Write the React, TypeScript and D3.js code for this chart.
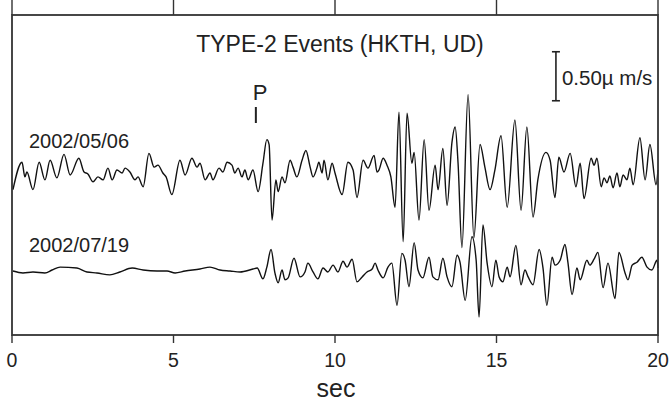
import React from "react";
import * as d3 from "d3";

// Time axis (seconds) and tick labels
const X_DOMAIN: [number, number] = [0, 20];
const X_TICKS = [0, 5, 10, 15, 20];

// Vertical range of the panel in µm/s, and baseline offsets of each trace
const Y_DOMAIN: [number, number] = [0, 3.265];
const TRACE_LABELS = ["2002/05/06", "2002/07/19"];
const TRACE_OFFSETS = [1.663, 0.653];

// Scale bar (µm/s) and P arrival time (s)
const SCALE_BAR_VALUE = 0.5;
const SCALE_BAR_TIME = 16.84;
const SCALE_BAR_BASE = 2.39;
const P_TIME = 7.55;

// Velocity traces: [time s, amplitude µm/s]
const TRACE_0506: [number, number][] = [
  [0.03, -0.18], [0.31, 0.1], [0.4, -0.05], [0.46, 0.0], [0.65, -0.18], [0.84, 0.1],
  [1.02, -0.08], [1.18, 0.12], [1.39, -0.06], [1.61, 0.18], [1.8, -0.03], [2.07, 0.14],
  [2.23, 0.0], [2.35, -0.02], [2.51, -0.1], [2.66, -0.05], [2.82, -0.08], [2.97, 0.04],
  [3.1, -0.08], [3.25, 0.02], [3.41, -0.01], [3.5, 0.04], [3.65, 0.0], [3.81, -0.08],
  [3.9, -0.05], [4.06, -0.15], [4.24, 0.19], [4.4, 0.05], [4.52, 0.07], [4.67, -0.01],
  [4.77, -0.05], [4.95, -0.23], [5.2, 0.12], [5.36, -0.03], [5.57, 0.14], [5.73, 0.05],
  [5.82, 0.09], [5.98, -0.08], [6.13, -0.01], [6.22, -0.08], [6.41, 0.04], [6.53, 0.0],
  [6.66, 0.1], [6.81, 0.07], [6.9, -0.01], [7.0, 0.04], [7.12, -0.05], [7.21, 0.02],
  [7.31, -0.08], [7.46, 0.02], [7.62, -0.2], [7.77, 0.09], [7.89, 0.33], [7.96, 0.28],
  [8.05, -0.49], [8.17, -0.08], [8.24, -0.2], [8.36, -0.05], [8.45, -0.11], [8.61, 0.12],
  [8.7, 0.05], [8.82, -0.05], [8.98, 0.12], [9.1, 0.22], [9.23, 0.05], [9.32, -0.05],
  [9.44, 0.04], [9.5, 0.1], [9.6, -0.01], [9.66, 0.12], [9.78, -0.08], [9.91, 0.09],
  [10.0, -0.01], [10.22, -0.23], [10.4, 0.1], [10.56, 0.02], [10.68, -0.26], [10.87, 0.12],
  [11.02, 0.04], [11.21, 0.17], [11.3, 0.0], [11.36, 0.02], [11.49, 0.14], [11.61, 0.07],
  [11.73, -0.05], [11.86, -0.36], [11.98, 0.61], [12.11, -0.71], [12.23, 0.6], [12.38, 0.09],
  [12.45, 0.2], [12.6, -0.49], [12.76, 0.33], [12.91, -0.39], [13.1, 0.07], [13.19, -0.18],
  [13.34, 0.24], [13.47, -0.34], [13.62, 0.3], [13.72, 0.46], [13.81, 0.09], [13.93, -0.77],
  [14.12, 0.79], [14.3, -0.67], [14.49, 0.28], [14.64, 0.05], [14.8, -0.18], [14.95, 0.02],
  [15.14, 0.37], [15.33, -0.36], [15.57, 0.53], [15.76, -0.39], [15.94, 0.46], [16.13, -0.46],
  [16.28, -0.08], [16.53, 0.2], [16.66, 0.12], [16.81, -0.26], [16.93, 0.15], [17.09, 0.0],
  [17.28, 0.19], [17.46, -0.15], [17.59, 0.09], [17.71, -0.27], [17.93, 0.14], [18.02, 0.07],
  [18.11, 0.14], [18.24, -0.15], [18.33, -0.06], [18.42, -0.11], [18.51, -0.04], [18.61, -0.16],
  [18.73, -0.01], [18.82, -0.15], [18.92, -0.03], [19.04, -0.08], [19.13, 0.04], [19.23, -0.13],
  [19.44, 0.35], [19.6, -0.08], [19.75, 0.28], [19.94, -0.13], [20.0, 0.02],
];

const TRACE_0719: [number, number][] = [
  [0.03, 0.0], [0.34, -0.02], [0.65, -0.01], [1.02, -0.02], [1.24, 0.01], [1.49, 0.04],
  [2.01, 0.03], [2.32, -0.01], [2.63, -0.02], [3.03, -0.04], [3.34, -0.01], [3.72, 0.03],
  [4.06, 0.01], [4.49, 0.0], [4.8, 0.0], [5.05, -0.02], [5.36, 0.0], [5.82, 0.02],
  [6.13, 0.04], [6.44, 0.01], [6.75, 0.0], [7.06, -0.01], [7.46, 0.02], [7.59, 0.03],
  [7.77, -0.08], [7.89, 0.04], [8.02, 0.22], [8.14, -0.02], [8.24, -0.12], [8.36, 0.01],
  [8.45, -0.09], [8.55, -0.07], [8.73, 0.13], [8.92, -0.06], [9.07, -0.01], [9.16, 0.08],
  [9.32, -0.01], [9.47, -0.08], [9.63, 0.03], [9.78, -0.01], [9.94, 0.06], [10.09, -0.01],
  [10.25, 0.1], [10.37, 0.04], [10.53, 0.12], [10.68, -0.11], [10.84, -0.06], [10.99, -0.01],
  [11.15, 0.02], [11.24, 0.08], [11.33, 0.01], [11.49, -0.07], [11.64, 0.04], [11.76, 0.08],
  [11.92, -0.35], [12.07, 0.18], [12.17, 0.11], [12.29, -0.16], [12.45, 0.29], [12.57, 0.01],
  [12.72, -0.07], [12.91, 0.14], [13.03, -0.06], [13.19, -0.09], [13.34, 0.13], [13.47, -0.06],
  [13.62, -0.16], [13.78, 0.16], [13.87, 0.09], [14.03, -0.3], [14.24, 0.35], [14.37, 0.11],
  [14.46, -0.47], [14.58, 0.47], [14.71, 0.08], [14.86, -0.16], [14.98, 0.11], [15.08, -0.06],
  [15.2, -0.11], [15.33, 0.04], [15.42, -0.06], [15.6, 0.26], [15.76, -0.14], [15.88, 0.01],
  [15.98, -0.06], [16.13, -0.14], [16.32, 0.22], [16.44, 0.03], [16.56, -0.35], [16.72, 0.14],
  [16.81, 0.06], [16.97, 0.11], [17.12, 0.27], [17.21, 0.09], [17.34, -0.24], [17.49, 0.03],
  [17.59, -0.09], [17.8, 0.11], [17.89, 0.06], [18.02, 0.12], [18.14, 0.19], [18.3, -0.17],
  [18.45, 0.08], [18.67, -0.28], [18.79, 0.19], [18.98, -0.02], [19.07, -0.09], [19.2, 0.06],
  [19.35, 0.09], [19.5, 0.14], [19.66, 0.04], [19.81, 0.01], [19.97, 0.11], [20.0, 0.03],
];

const TRACES = [TRACE_0506, TRACE_0719];

const W = 669;
const H = 403;
const M = { left: 12, right: 11, top: 15, bottom: 68 };
const FONT = "'Liberation Sans', Arial, Helvetica, sans-serif";

export default function App() {
  const x = d3.scaleLinear().domain(X_DOMAIN).range([M.left, W - M.right]);
  const y = d3.scaleLinear().domain(Y_DOMAIN).range([H - M.bottom, M.top]);
  const x0 = x.range()[0];
  const x1 = x.range()[1];
  const yTop = y.range()[1];
  const yBot = y.range()[0];

  const paths = TRACES.map((tr, i) =>
    d3
      .line<[number, number]>()
      .x((d) => x(d[0]))
      .y((d) => y(TRACE_OFFSETS[i] + d[1]))
      .curve(d3.curveMonotoneX)(tr) as string
  );

  const sbX = x(SCALE_BAR_TIME);
  const sbY0 = y(SCALE_BAR_BASE);
  const sbY1 = y(SCALE_BAR_BASE + SCALE_BAR_VALUE);
  const pX = x(P_TIME);

  return (
    <svg
      width={W}
      height={H}
      style={{ position: "absolute", left: 0, top: 0, background: "#fff" }}
      fontFamily={FONT}
    >
      {/* traces */}
      {paths.map((p, i) => (
        <path key={i} d={p} fill="none" stroke="#111" strokeWidth={1.4} strokeLinejoin="round" />
      ))}

      {/* frame */}
      <rect x={x0} y={yTop} width={x1 - x0} height={yBot - yTop} fill="none" stroke="#333" strokeWidth={1.8} />

      {/* ticks */}
      {X_TICKS.map((t) => (
        <g key={t}>
          <line x1={x(t)} x2={x(t)} y1={yBot} y2={yBot + 8} stroke="#333" strokeWidth={1.4} />
          <line x1={x(t)} x2={x(t)} y1={yTop} y2={0} stroke="#333" strokeWidth={1.4} />
          <text x={x(t)} y={367} textAnchor="middle" fontSize={19.5} fill="#222">
            {t}
          </text>
        </g>
      ))}
      <text x={336} y={397} textAnchor="middle" fontSize={25} fill="#222">
        sec
      </text>

      {/* title */}
      <text x={340} y={52} textAnchor="middle" fontSize={23} fill="#222">
        TYPE-2 Events (HKTH, UD)
      </text>

      {/* trace labels */}
      <text x={29} y={148} fontSize={20} fill="#222">
        {TRACE_LABELS[0]}
      </text>
      <text x={29} y={252} fontSize={20} fill="#222">
        {TRACE_LABELS[1]}
      </text>

      {/* P arrival */}
      <text x={pX - 3} y={100} fontSize={22} fill="#222">
        P
      </text>
      <line x1={pX} x2={pX} y1={107} y2={123} stroke="#222" strokeWidth={2} />

      {/* scale bar */}
      <line x1={sbX} x2={sbX} y1={sbY0} y2={sbY1} stroke="#222" strokeWidth={1.6} />
      <line x1={sbX - 4} x2={sbX + 4} y1={sbY0} y2={sbY0} stroke="#222" strokeWidth={1.6} />
      <line x1={sbX - 4} x2={sbX + 4} y1={sbY1} y2={sbY1} stroke="#222" strokeWidth={1.6} />
      <text x={sbX + 6} y={85} fontSize={20.5} fill="#222">
        {"0.50\u00b5 m/s"}
      </text>
    </svg>
  );
}
